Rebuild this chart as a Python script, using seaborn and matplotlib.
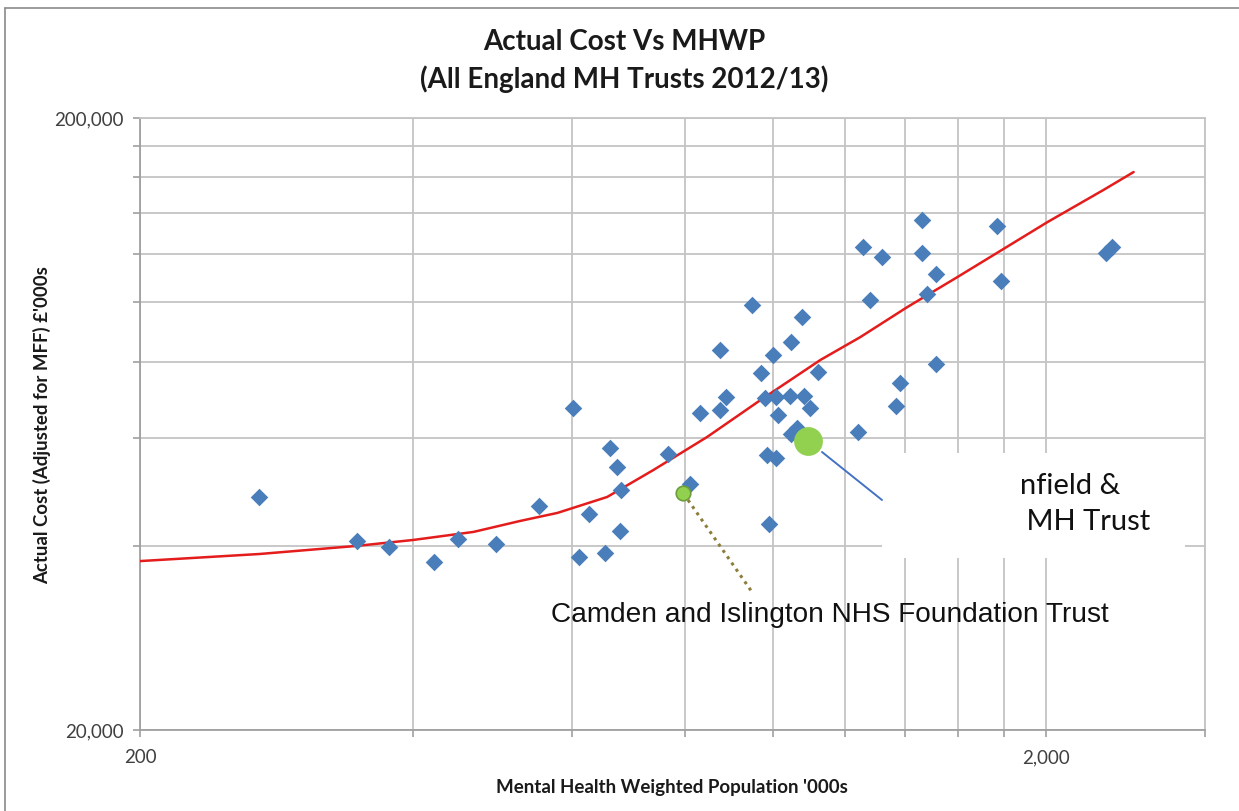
import matplotlib
matplotlib.use("Agg")
import matplotlib.pyplot as plt
import matplotlib.ticker as mticker
from matplotlib.patches import Rectangle
from matplotlib.lines import Line2D
import seaborn as sns
import pandas as pd

# ---- data ----
mhwp = [271, 347, 377, 422, 449, 494, 552, 602, 611, 627, 653, 660, 673, 677, 680,
        765, 809, 831, 873, 875, 888, 947, 971, 981, 984, 989, 999, 1009, 1009, 1014,
        1048, 1045, 1048, 1064, 1078, 1081, 1100, 1120, 1243, 1256, 1281, 1321, 1366,
        1380, 1459, 1459, 1478, 1512, 1512, 1770, 1784, 2330, 2366]
cost = [48060, 40720, 39810, 37620, 41020, 40250, 46460, 67160, 38340, 45080, 38920,
        57770, 53800, 42300, 49340, 56490, 50470, 65930, 66680, 83530, 70000, 98980,
        76630, 69740, 56270, 43420, 82000, 70000, 55640, 65430, 86100, 70260, 60900,
        62280, 94580, 70260, 67160, 76920, 61360, 123100, 100900, 118600, 67700, 73790,
        136200, 120400, 103200, 111200, 79250, 133200, 108300, 120400, 123100]

trend_x = [200, 271, 347, 401, 467, 526, 578, 656, 738, 846, 969, 1128, 1249, 1408,
           1598, 2010, 2318, 2502]
trend_y = [37760, 38780, 39980, 40890, 42140, 43920, 45260, 48060, 53200, 60240, 69220,
           80460, 87720, 98240, 109900, 135200, 152600, 163200]

camden_x, camden_y = [796], [48780]
enfield_x, enfield_y = [1092], [59320]

x_major = [200, 2000]
x_minor = [400, 600, 800, 1000, 1200, 1400, 1600, 1800, 3000]
y_major = [20000, 200000]
y_minor = [40000, 60000, 80000, 100000, 120000, 140000, 160000, 180000]

title = "Actual Cost Vs MHWP\n(All England MH Trusts 2012/13)"
xlabel = "Mental Health Weighted Population '000s"
ylabel = "Actual Cost (Adjusted for MFF) £'000s"
camden_label = "Camden and Islington NHS Foundation Trust"
enfield_label1 = "nfield &"
enfield_label2 = " MH Trust"

# ---- figure ----
sns.set_style("white")
plt.rcParams['font.family'] = ['Lato', 'DejaVu Sans']

W, H = 1239, 811
fig = plt.figure(figsize=(W / 100, H / 100), dpi=100)
L, R, T, B = 140, 1205, 118, 730
ax = fig.add_axes([L / W, 1 - B / H, (R - L) / W, (B - T) / H])

df = pd.DataFrame({"x": mhwp, "y": cost})
tdf = pd.DataFrame({"x": trend_x, "y": trend_y})

sns.lineplot(data=tdf, x="x", y="y", sort=False, color="#E41C1C", lw=1.8, ax=ax,
             zorder=4)
sns.scatterplot(data=df, x="x", y="y", marker="D", s=80, color="#4A7EBB",
                edgecolor="#4A7EBB", linewidth=0, ax=ax, zorder=5)
sns.scatterplot(x=camden_x, y=camden_y, s=110, color="#92D050", edgecolor="#6E9E3C",
                linewidth=1.2, ax=ax, zorder=6)
sns.scatterplot(x=enfield_x, y=enfield_y, s=430, color="#92D050", edgecolor="#92D050",
                linewidth=0, ax=ax, zorder=6)

ax.set_xscale("log")
ax.set_yscale("log")
ax.set_xlim(200, 3000)
ax.set_ylim(20000, 200000)

ax.xaxis.set_major_locator(mticker.FixedLocator(x_major))
ax.xaxis.set_minor_locator(mticker.FixedLocator(x_minor))
ax.yaxis.set_major_locator(mticker.FixedLocator(y_major))
ax.yaxis.set_minor_locator(mticker.FixedLocator(y_minor))
ax.xaxis.set_major_formatter(mticker.FuncFormatter(lambda v, p: f"{int(v):,}"))
ax.yaxis.set_major_formatter(mticker.FuncFormatter(lambda v, p: f"{int(v):,}"))
ax.xaxis.set_minor_formatter(mticker.NullFormatter())
ax.yaxis.set_minor_formatter(mticker.NullFormatter())

ax.grid(True, which="both", color="#C4C4C4", lw=1.3)
ax.set_axisbelow(True)
ax.tick_params(axis="both", which="both", direction="out", length=5, width=1.2,
               color="#A0A0A0", labelsize=13.5, labelcolor="#404040")
ax.tick_params(axis="both", which="both", bottom=True, left=True)
ax.tick_params(axis="x", pad=9)
ax.tick_params(axis="y", pad=7)
for s in ["left", "bottom"]:
    ax.spines[s].set_color("#A0A0A0")
    ax.spines[s].set_linewidth(1.3)
for s in ["top", "right"]:
    ax.spines[s].set_color("#C4C4C4")
    ax.spines[s].set_linewidth(1.3)

ax.set_xlabel(xlabel, fontsize=13.5, fontweight="bold", color="#1a1a1a")
ax.set_ylabel(ylabel, fontsize=13.4, fontweight="bold", color="#1a1a1a")
ax.xaxis.set_label_coords((672 - L) / (R - L), -(787 - B) / (B - T))
ax.xaxis.label.set_va("center")
ax.yaxis.set_label_coords(-(140 - 42) / (R - L), (B - 425) / (B - T))
ax.yaxis.label.set_va("center")

fig.text(624 / W, 1 - 61 / H, title, ha="center", va="center", fontsize=20,
         fontweight="bold", color="#1a1a1a", linespacing=1.5)

# white text box covering gridlines
ax.add_patch(Rectangle(((882 - L) / (R - L), (B - 558) / (B - T)),
                       (1185 - 882) / (R - L), (558 - 453) / (B - T),
                       transform=ax.transAxes, facecolor="white", edgecolor="none",
                       zorder=3))
# connector lines
ax.add_line(Line2D([(822 - L) / (R - L), (882 - L) / (R - L)],
                   [(B - 452) / (B - T), (B - 500) / (B - T)],
                   transform=ax.transAxes, color="#4472C4", lw=1.4, zorder=7))
ax.add_line(Line2D([(688 - L) / (R - L), (752 - L) / (R - L)],
                   [(B - 500) / (B - T), (B - 592) / (B - T)],
                   transform=ax.transAxes, color="#8C7D3A", lw=2.2, ls=(0, (1, 1.5)),
                   zorder=7))

fig.text(551 / W, 1 - 615 / H, camden_label, ha="left", va="center", fontsize=20.2,
         family=["Liberation Sans", "DejaVu Sans"], color="#111111")
fig.text(1020 / W, 1 - 486 / H, enfield_label1, ha="left", va="center", fontsize=21,
         color="#111111")
fig.text(1019 / W, 1 - 522 / H, enfield_label2, ha="left", va="center", fontsize=21,
         color="#111111")

# chart-area border
fig.add_artist(Line2D([5 / W, 5 / W], [0, 1 - 8 / H], transform=fig.transFigure,
                      color="#8A8A8A", lw=1.2))
fig.add_artist(Line2D([5 / W, 1], [1 - 8 / H, 1 - 8 / H], transform=fig.transFigure,
                      color="#8A8A8A", lw=1.2))

fig.savefig("out.png", dpi=100)
